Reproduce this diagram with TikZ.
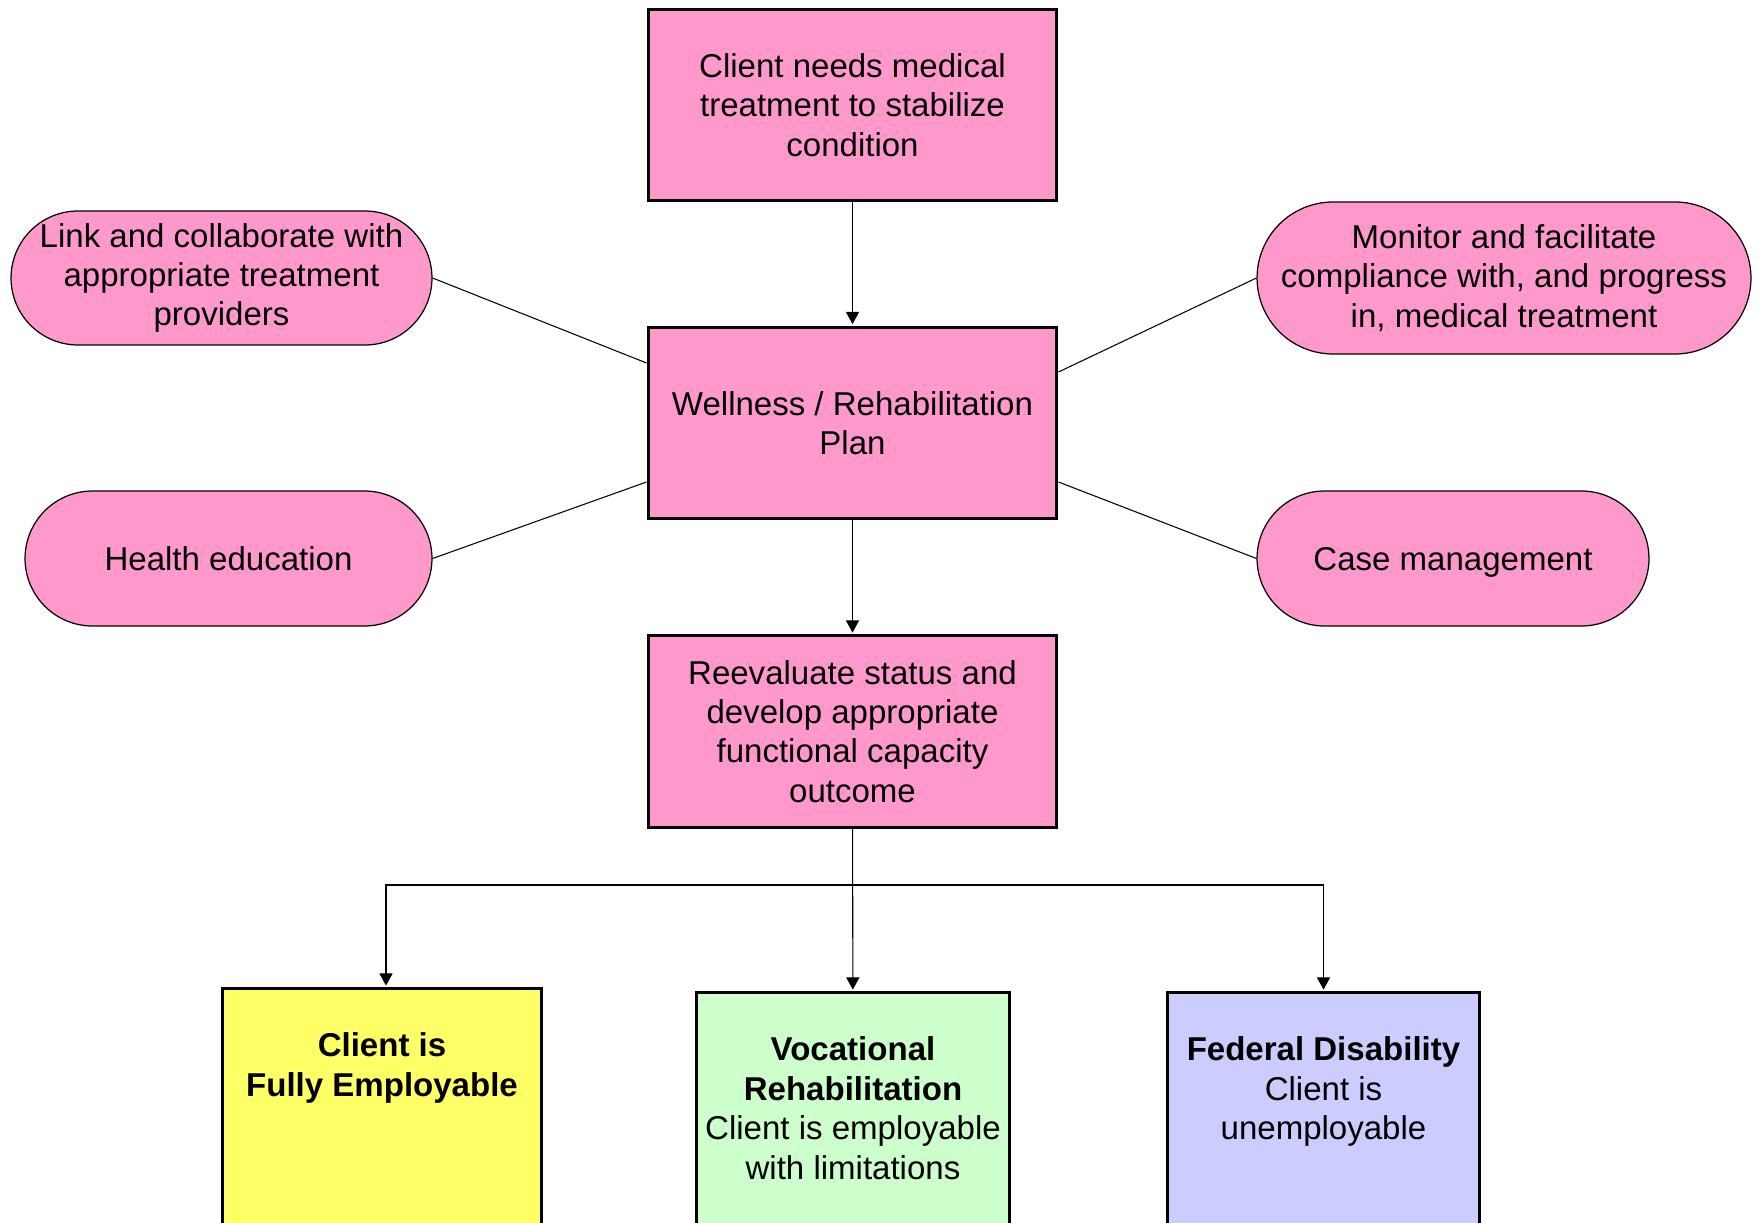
\documentclass[tikz,border=0pt]{standalone}
\usepackage{fontspec}
\setmainfont{Liberation Sans}
\usetikzlibrary{arrows.meta,shapes.misc}
\definecolor{planpink}{RGB}{255,153,204}
\definecolor{outyellow}{RGB}{255,255,102}
\definecolor{outgreen}{RGB}{204,255,204}
\definecolor{outblue}{RGB}{204,204,255}
\tikzset{
  chart/.style={
    x=0.02cm,
    y=-0.02cm,
    font=\fontsize{18.8}{22.4}\selectfont
  },
  plan-box/.style={
    rectangle,
    draw=black,
    line width=1.7pt,
    fill=planpink,
    minimum width=8.18cm,
    minimum height=3.84cm,
    align=center,
    inner sep=0pt
  },
  side-pill/.style={
    rounded rectangle,
    draw=black,
    line width=0.7pt,
    fill=planpink,
    minimum height=2.7cm,
    align=center,
    inner sep=0pt
  },
  out-box/.style={
    rectangle,
    draw=black,
    line width=1.7pt,
    anchor=north,
    inner sep=0pt
  },
  link-line/.style={line width=0.6pt},
  flow-arrow/.style={
    line width=0.6pt,
    shorten >=0.8pt,
    -{Triangle[width=7.5pt,length=7pt]}
  }
}
\newcommand{\outtext}[2]{%
  \parbox[t][5.2cm][t]{#1}{\centering\rule{0pt}{1.37cm}#2}%
}

\begin{document}
\begin{tikzpicture}[chart]
  \useasboundingbox (0,0) rectangle (1761,1223);
  % plan column
  \node[plan-box] (need) at (852.5,105)
    {Client needs medical\\treatment to stabilize\\condition};
  \node[plan-box] (plan) at (852.5,423)
    {Wellness / Rehabilitation\\Plan};
  \node[plan-box] (reeval) at (852.5,731.5)
    {Reevaluate status and\\develop appropriate\\functional capacity\\outcome};
  % services
  \node[side-pill, minimum width=8.42cm, minimum height=2.68cm] (link) at (221.5,278)
    {Link and collaborate with\\appropriate treatment\\providers};
  \node[side-pill, minimum width=8.14cm] (health) at (228.5,558.5)
    {Health education};
  \node[side-pill, minimum width=9.88cm, minimum height=3.04cm] (monitor) at (1504,278)
    {Monitor and facilitate\\compliance with, and progress\\in, medical treatment};
  \node[side-pill, minimum width=7.84cm, text depth=0pt] (casemgmt) at (1453,558.5)
    {Case management};
  % outcomes
  \node[out-box, fill=outyellow] (employ) at (382,987)
    {\outtext{6.4cm}{\textbf{Client is}\\\textbf{Fully Employable}}};
  \node[out-box, fill=outgreen] (vocrehab) at (853,991)
    {\outtext{6.28cm}{\textbf{Vocational}\\\textbf{Rehabilitation}\\Client is employable\\with limitations}};
  \node[out-box, fill=outblue] (disab) at (1323.5,991)
    {\outtext{6.26cm}{\textbf{Federal Disability}\\Client is\\unemployable}};
  \coordinate (split) at (852.5,885);

  \draw[flow-arrow] (need) -- (plan);
  \draw[flow-arrow] (plan) -- (reeval);
  \draw[flow-arrow] (reeval) -- (vocrehab);
  \draw[flow-arrow] (split) -| ([xshift=0.08cm]employ.north);
  \draw[flow-arrow] (split) -| (disab.north);

  \draw[link-line] (link.east) -- ([yshift=1.2cm]plan.west);
  \draw[link-line] (health.east) -- ([yshift=-1.18cm]plan.west);
  \draw[link-line] (monitor.west) -- ([yshift=1.02cm]plan.east);
  \draw[link-line] (casemgmt.west) -- ([yshift=-1.18cm]plan.east);
\end{tikzpicture}
\end{document}
